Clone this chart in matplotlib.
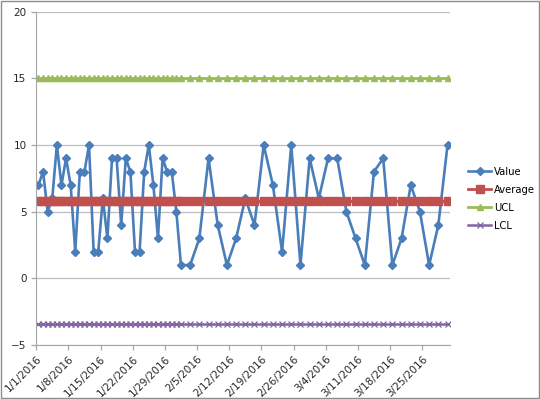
import numpy as np
import pandas as pd
import matplotlib
matplotlib.use("Agg")
import matplotlib.pyplot as plt
from matplotlib.patches import Rectangle

# daily readings for January, then every other day
dates = list(pd.date_range("2016-01-01", "2016-02-01", freq="D")) + \
    list(pd.date_range("2016-02-03", "2016-03-30", freq="2D"))
values = [7, 8, 5, 6, 10, 7, 9, 7, 2, 8, 8, 10, 2, 2, 6, 3,
          9, 9, 4, 9, 8, 2, 2, 8, 10, 7, 3, 9, 8, 8, 5, 1,
          1, 3, 9, 4, 1, 3, 6, 4, 10, 7, 2, 10, 1, 9, 6, 9,
          9, 5, 3, 1, 8, 9, 1, 3, 7, 5, 1, 4, 10]
average = 5.8
ucl = 15.0
lcl = -3.4
tick_dates = pd.date_range("2016-01-01", "2016-03-25", freq="7D")

# excel puts each point in the middle of its day slot
x = [d + pd.Timedelta(hours=12) for d in dates]
n = len(x)

fig = plt.figure(figsize=(5.4, 3.99), dpi=100)
ax = fig.add_axes([0.067, 0.135, 0.766, 0.836])

ax.plot(x, values, color="#4A7EBB", lw=1.9, marker="D", ms=3.6, label="Value")
ax.plot(x, [average] * n, color="#C0504D", lw=2, marker="s", ms=6.3, label="Average")
ax.plot(x, [ucl] * n, color="#9BBB59", lw=2, marker="^", ms=4.5, label="UCL")
ax.plot(x, [lcl] * n, color="#8064A2", lw=1.8, marker="x", ms=5, mew=0.9, label="LCL")

ax.set_ylim(-5, 20)
ax.set_yticks(np.arange(-5, 21, 5))
ax.set_xlim(pd.Timestamp("2016-01-01"), pd.Timestamp("2016-03-31"))
ax.set_xticks(tick_dates)
ax.set_xticklabels([f"{d.month}/{d.day}/{d.year}" for d in tick_dates],
                   rotation=45, ha="right", rotation_mode="anchor")

ax.grid(axis="y", color="#BEBEBE", lw=0.9)
ax.set_axisbelow(True)
for s in ["top", "right"]:
    ax.spines[s].set_visible(False)
for s in ["left", "bottom"]:
    ax.spines[s].set_color("#A6A6A6")
ax.tick_params(axis="both", colors="#A6A6A6", labelcolor="#262626",
               labelsize=7.5, length=3.5, width=0.9)
ax.tick_params(axis="x", pad=3)

fig.legend(loc="upper left", bbox_to_anchor=(0.86, 0.592), frameon=False,
           fontsize=7.2, handlelength=2.3, handletextpad=0.25, labelspacing=0.8,
           borderaxespad=0)

fig.patches.append(Rectangle((0.002, 0.003), 0.996, 0.994, transform=fig.transFigure,
                             fill=False, edgecolor="#8C8C8C", lw=1))

fig.savefig("out.png", dpi=100)
